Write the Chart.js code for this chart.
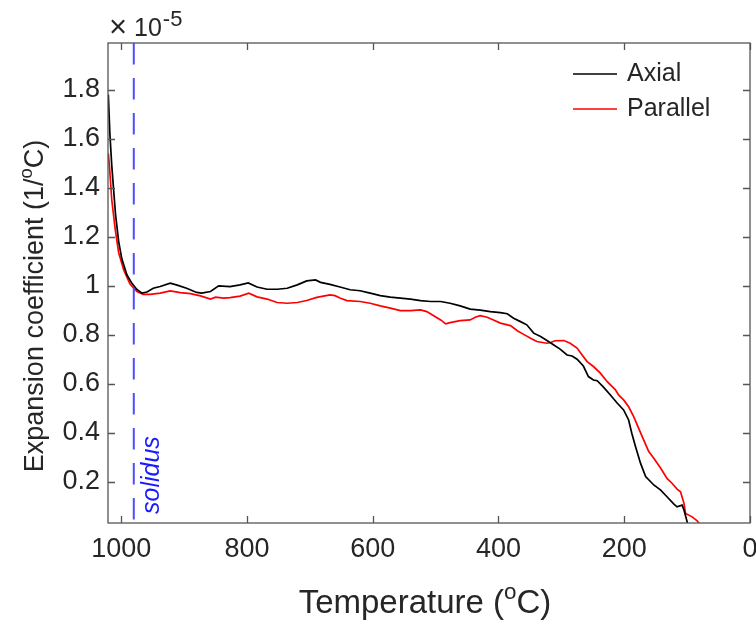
<!DOCTYPE html>
<html>
<head>
<meta charset="utf-8">
<script src="https://cdn.jsdelivr.net/npm/chart.js@4.4.0/dist/chart.umd.min.js"></script>
<style>
    html, body { margin: 0; padding: 0; background: #fff; }
</style>
</head>
<body>
<canvas id="grafico" width="756" height="621"></canvas>
<script>
// Temperatura (oC) e coeficiente de expansão (x 1e-5 1/oC)
const temperaturaAxial = [
    1020.5, 1018, 1015, 1012, 1009, 1004, 999, 991, 983, 975,
    967, 959, 949, 938, 922, 911, 896, 880, 872, 858,
    845, 827, 811, 798, 784, 768, 752, 736, 720, 705,
    691, 683, 668, 652, 636, 620, 604, 588, 572, 556,
    540, 524, 508, 492, 477, 461, 445, 429, 413, 397,
    386, 376, 365, 355, 344, 333, 323, 312, 302, 291,
    283, 275, 265, 257, 249, 243, 233, 222, 211, 201,
    193, 188, 182, 174, 166, 153, 142, 132, 121, 116,
    108, 105, 100, 98
];
const coefAxial = [
    1.78, 1.62, 1.49, 1.39, 1.29, 1.18, 1.11, 1.045, 1.01, 0.985,
    0.97, 0.975, 0.99, 0.997, 1.011, 1.003, 0.99, 0.973, 0.97, 0.977,
    1.0, 0.997, 1.004, 1.012, 0.995, 0.986, 0.986, 0.99, 1.004, 1.02,
    1.024, 1.014, 1.006, 0.995, 0.984, 0.98, 0.97, 0.96, 0.954, 0.95,
    0.946, 0.94, 0.936, 0.936, 0.929, 0.918, 0.905, 0.901, 0.895, 0.891,
    0.886, 0.868, 0.854, 0.841, 0.807, 0.793, 0.777, 0.759, 0.742, 0.718,
    0.714, 0.701, 0.673, 0.63, 0.616, 0.613, 0.587, 0.555, 0.521, 0.494,
    0.453, 0.399, 0.344, 0.276, 0.222, 0.188, 0.167, 0.14, 0.11, 0.099,
    0.106, 0.086, 0.038, 0.0
];

const temperaturaParallel = [
    1020.5, 1018.5, 1015, 1009.5, 1004, 996, 986, 975, 965, 954,
    938, 922, 906, 890, 874, 858, 850, 837, 827, 811,
    797, 784, 768, 752, 736, 720, 705, 689, 668, 660,
    652, 641, 620, 604, 588, 572, 556, 540, 524, 514,
    503, 492, 484, 477, 461, 445, 437, 429, 418, 408,
    397, 381, 370, 360, 349, 339, 323, 317, 310, 296,
    286, 275, 267, 259, 249, 238, 227, 214, 209, 201,
    193, 185, 177, 169, 161, 153, 142, 132, 124, 116,
    110.5, 105, 102.6, 92, 84, 81, 78
];
const coefParallel = [
    1.54, 1.48, 1.35, 1.23, 1.135, 1.065, 1.007, 0.977, 0.965, 0.965,
    0.97, 0.979, 0.972, 0.968, 0.959, 0.946, 0.954, 0.95, 0.952, 0.958,
    0.97, 0.955, 0.946, 0.932, 0.929, 0.932, 0.94, 0.953, 0.963, 0.96,
    0.95, 0.94, 0.936, 0.929, 0.918, 0.909, 0.899, 0.899, 0.902, 0.895,
    0.878, 0.861, 0.845, 0.85, 0.858, 0.861, 0.872, 0.878, 0.872, 0.861,
    0.848, 0.838, 0.817, 0.802, 0.786, 0.773, 0.766, 0.769, 0.776, 0.777,
    0.766, 0.746, 0.718, 0.691, 0.671, 0.644, 0.609, 0.576, 0.555, 0.535,
    0.507, 0.467, 0.419, 0.371, 0.324, 0.297, 0.256, 0.215, 0.195, 0.171,
    0.16, 0.113, 0.072, 0.058, 0.042, 0.031, 0.01
];

const solidusTemp = 980;

const xTicks = [1000, 800, 600, 400, 200, 0];
const yTicks = [0.2, 0.4, 0.6, 0.8, 1.0, 1.2, 1.4, 1.6, 1.8];
const xLimites = [0, 1021];
const yLimites = [0.033, 1.99];

const fonte = "'Liberation Sans', Arial, sans-serif";
const corTexto = '#262626';
const corEixo = '#555555';

// desenha texto com partes sobrescritas (ex.: oC)
function textoComSobrescrito(ctx, partes, tamanho, x, y) {
    let larguras = partes.map(p => {
        ctx.font = `${p.sup ? tamanho * 0.68 : tamanho}px ${fonte}`;
        return ctx.measureText(p.t).width;
    });
    let total = larguras.reduce((a, b) => a + b, 0);
    let cx = x - total / 2;
    partes.forEach((p, i) => {
        ctx.font = `${p.sup ? tamanho * 0.68 : tamanho}px ${fonte}`;
        ctx.fillText(p.t, cx, p.sup ? y - tamanho * 0.42 : y);
        cx += larguras[i];
    });
}

const pluginMoldura = {
    id: 'moldura',
    afterDraw(chart) {
        const ctx = chart.ctx;
        const area = chart.chartArea;
        const escalaX = chart.scales.x;
        const escalaY = chart.scales.y;

        ctx.save();

        // moldura e ticks para dentro
        ctx.strokeStyle = corEixo;
        ctx.lineWidth = 1.3;
        ctx.strokeRect(area.left, area.top, area.right - area.left, area.bottom - area.top);
        ctx.beginPath();
        xTicks.forEach(v => {
            const px = Math.round(escalaX.getPixelForValue(v)) + 0.5;
            ctx.moveTo(px, area.bottom); ctx.lineTo(px, area.bottom - 7);
            ctx.moveTo(px, area.top); ctx.lineTo(px, area.top + 7);
        });
        yTicks.forEach(v => {
            const py = Math.round(escalaY.getPixelForValue(v)) + 0.5;
            ctx.moveTo(area.left, py); ctx.lineTo(area.left + 7, py);
            ctx.moveTo(area.right, py); ctx.lineTo(area.right - 7, py);
        });
        ctx.stroke();

        // multiplicador x10^-5
        ctx.fillStyle = corTexto;
        ctx.textBaseline = 'alphabetic';
        ctx.textAlign = 'left';
        ctx.font = `31px ${fonte}`;
        ctx.fillText('\u00d7', area.left + 1, 37);
        ctx.font = `25px ${fonte}`;
        ctx.fillText('10', area.left + 26, 36);
        let w = ctx.measureText('10').width;
        ctx.font = `22px ${fonte}`;
        ctx.fillText('-5', area.left + 27 + w, 26);

        // titulos dos eixos
        textoComSobrescrito(ctx, [
            { t: 'Temperature (', sup: false },
            { t: 'o', sup: true },
            { t: 'C)', sup: false }
        ], 33, (area.left + area.right) / 2 - 4, 613);

        ctx.save();
        ctx.translate(43, 306);
        ctx.rotate(-Math.PI / 2);
        textoComSobrescrito(ctx, [
            { t: 'Expansion coefficient (1/', sup: false },
            { t: 'o', sup: true },
            { t: 'C)', sup: false }
        ], 27, 0, 0);
        ctx.restore();

        // rotulo solidus
        ctx.save();
        ctx.fillStyle = '#1a1aff';
        ctx.font = `italic 25px ${fonte}`;
        ctx.translate(escalaX.getPixelForValue(solidusTemp) + 25, area.bottom - 9);
        ctx.rotate(-Math.PI / 2);
        ctx.fillText('solidus', 0, 0);
        ctx.restore();

        // legenda
        ctx.textBaseline = 'middle';
        ctx.font = `25px ${fonte}`;
        chart.data.datasets.slice(0, 2).forEach((ds, i) => {
            const ly = area.top + 31 + i * 35;
            ctx.strokeStyle = ds.borderColor;
            ctx.lineWidth = 1.5;
            ctx.beginPath();
            ctx.moveTo(area.right - 177, ly);
            ctx.lineTo(area.right - 133, ly);
            ctx.stroke();
            ctx.fillStyle = corTexto;
            ctx.fillText(ds.label, area.right - 123, ly);
        });

        ctx.restore();
    }
};

function plotarGrafico() {
    let dadosGrafico = {
        datasets: [{
            label: 'Axial',
            data: temperaturaAxial.map((t, i) => ({ x: t, y: coefAxial[i] })),
            borderColor: '#000000',
            borderWidth: 1.7,
            pointRadius: 0,
            fill: false
        },
        {
            label: 'Parallel',
            data: temperaturaParallel.map((t, i) => ({ x: t, y: coefParallel[i] })),
            borderColor: '#ff0000',
            borderWidth: 1.7,
            pointRadius: 0,
            fill: false
        },
        {
            label: 'solidus',
            // de cima para baixo, para o tracejado comecar no topo
            data: [{ x: solidusTemp, y: yLimites[1] }, { x: solidusTemp, y: yLimites[0] }],
            borderColor: '#4d4dff',
            borderWidth: 2,
            borderDash: [21.5, 13.5],
            pointRadius: 0,
            fill: false,
            order: -1
        }]
    };

    const configGrafico = {
        type: 'line',
        data: dadosGrafico,
        options: {
            responsive: false,
            animation: false,
            devicePixelRatio: 1,
            layout: { padding: { top: 43, right: 6, left: 0, bottom: 0 } },
            plugins: {
                legend: { display: false },
                tooltip: { enabled: false }
            },
            scales: {
                x: {
                    type: 'linear',
                    reverse: true,
                    min: xLimites[0],
                    max: xLimites[1],
                    grid: { display: false, drawTicks: false },
                    border: { display: false },
                    afterBuildTicks: (scale) => { scale.ticks = xTicks.map(v => ({ value: v })); },
                    afterFit: (scale) => {
                        scale.height = 98;
                        scale.paddingLeft = 0;
                        scale.paddingRight = 0;
                    },
                    ticks: {
                        color: corTexto,
                        font: { family: fonte, size: 27 },
                        padding: 10,
                        maxRotation: 0,
                        autoSkip: false,
                        callback: (valor) => valor
                    }
                },
                y: {
                    min: yLimites[0],
                    max: yLimites[1],
                    grid: { display: false, drawTicks: false },
                    border: { display: false },
                    afterBuildTicks: (scale) => { scale.ticks = yTicks.map(v => ({ value: v })); },
                    afterFit: (scale) => {
                        scale.width = 108;
                        scale.paddingTop = 0;
                        scale.paddingBottom = 0;
                    },
                    ticks: {
                        color: corTexto,
                        font: { family: fonte, size: 27 },
                        padding: 8,
                        autoSkip: false,
                        callback: (valor) => Number(valor.toFixed(1)).toString()
                    }
                }
            }
        },
        plugins: [pluginMoldura]
    };

    let meuGrafico = new Chart(document.getElementById('grafico'), configGrafico);
}

plotarGrafico();
</script>
</body>
</html>
